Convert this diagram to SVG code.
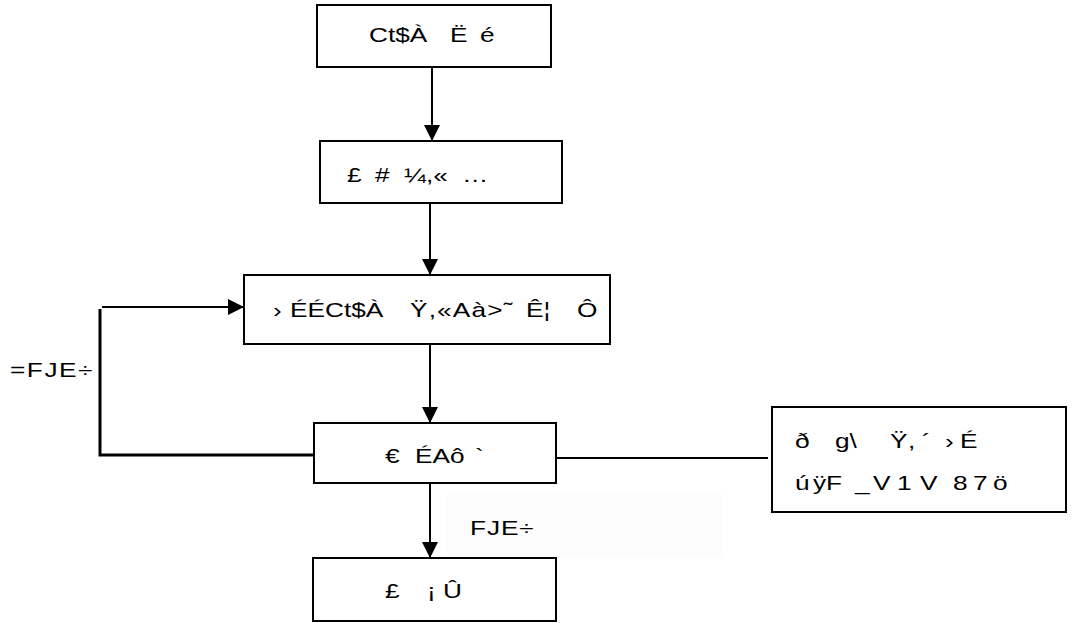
<svg xmlns="http://www.w3.org/2000/svg" width="1074" height="623" viewBox="0 0 1074 623">
<defs>
<style>
.box{fill:#fff;stroke:#000;stroke-width:2}
.t{font-family:"Liberation Sans",Arial,sans-serif;font-size:21px;fill:#000;white-space:pre}
.ln{fill:none;stroke:#000;stroke-width:2}
</style>
<marker id="ah" markerWidth="16" markerHeight="16" viewBox="0 0 16 16" refX="16" refY="8" orient="auto" markerUnits="userSpaceOnUse">
<path d="M0,0 L16,8 L0,16 Z" fill="#000"/>
</marker>
</defs>
<rect width="1074" height="623" fill="#fff"/>
<rect x="447" y="493" width="275" height="64" fill="#fcfcfc"/>
<g id="connectors">
<line class="ln" x1="432" y1="67" x2="432" y2="141" marker-end="url(#ah)"/>
<line class="ln" x1="430" y1="203" x2="430" y2="275" marker-end="url(#ah)"/>
<line class="ln" x1="430" y1="344" x2="430" y2="423" marker-end="url(#ah)"/>
<line class="ln" x1="430" y1="483" x2="430" y2="558" marker-end="url(#ah)"/>
<polyline fill="none" stroke="#000" stroke-width="3" points="314,455 100,455 100,309"/>
<line class="ln" x1="102" y1="307" x2="244" y2="307" marker-end="url(#ah)"/>
<line class="ln" x1="556" y1="458" x2="768" y2="458"/>
<text class="t" transform="translate(10,377) scale(1.25,1)" textLength="66" lengthAdjust="spacing">=FJE÷</text>
<text class="t" transform="translate(470,535) scale(1.25,1)" textLength="51" lengthAdjust="spacing">FJE÷</text>
</g>
<g id="n1"><rect class="box" x="317" y="5" width="234" height="62"/>
<text class="t" transform="scale(1.25,1)" y="42"><tspan x="295.2">Ct$À</tspan><tspan x="360">Ë</tspan><tspan x="384">é</tspan></text></g>
<g id="n2"><rect class="box" x="320" y="141" width="242" height="62"/>
<text class="t" transform="scale(1.25,1)" y="182"><tspan x="277.6">£</tspan><tspan x="300">#</tspan><tspan x="323.2">¼,«</tspan><tspan x="369.6">…</tspan></text></g>
<g id="n3"><rect class="box" x="244" y="275" width="366" height="69"/>
<text class="t" transform="scale(1.25,1)" y="317"><tspan x="218.4">›</tspan><tspan x="232">ÉÉCt$À</tspan><tspan x="420.8">Ê¦</tspan><tspan x="461.6">Ô</tspan></text>
<text class="t" transform="scale(1.25,1)" x="328" y="317" textLength="82" lengthAdjust="spacing">Ÿ,«Aà>˜</text></g>
<g id="n4"><rect class="box" x="314" y="423" width="242" height="60"/>
<text class="t" transform="scale(1.25,1)" y="463"><tspan x="308">€</tspan><tspan x="332">ÉAô</tspan><tspan x="380">`</tspan></text></g>
<g id="n5"><rect class="box" x="772" y="407" width="294" height="105"/>
<text class="t" transform="scale(1.25,1)" y="448"><tspan x="636">ð</tspan><tspan x="668">g\</tspan><tspan x="712">Ÿ</tspan><tspan x="726.4">,</tspan><tspan x="737.6">´</tspan><tspan x="756">›</tspan><tspan x="768">É</tspan></text>
<text class="t" transform="scale(1.25,1)" y="490"><tspan x="636">ú</tspan><tspan x="650.4">ÿF</tspan><tspan x="684">_</tspan><tspan x="698.4">V</tspan><tspan x="717.6">1</tspan><tspan x="736">V</tspan><tspan x="762.4">8</tspan><tspan x="778.4">7</tspan><tspan x="794.4">ö</tspan></text></g>
<g id="n6"><rect class="box" x="313" y="558" width="243" height="63"/>
<text class="t" transform="scale(1.25,1)" y="598"><tspan x="308">£</tspan><tspan x="341.6">¡</tspan><tspan x="354.4">Û</tspan></text></g>
</svg>
